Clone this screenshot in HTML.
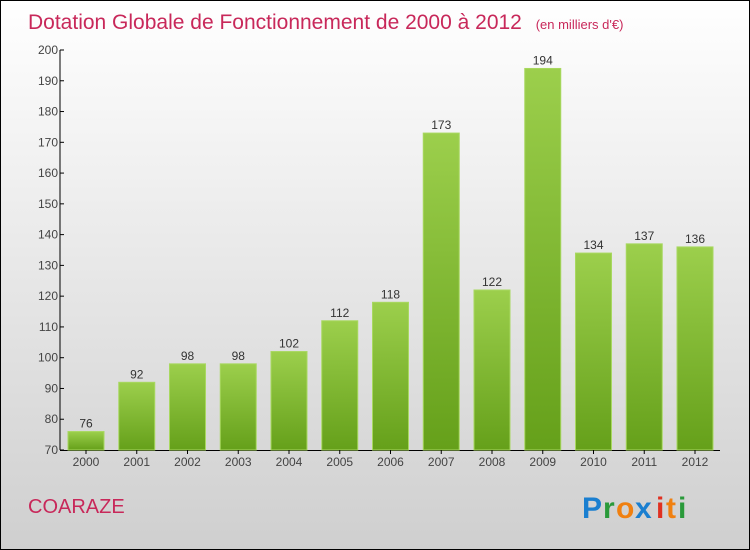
<!DOCTYPE html>
<html><head><meta charset="utf-8"><style>
body{margin:0}
svg{display:block;font-family:"Liberation Sans",sans-serif}
</style></head><body>
<svg id="c" width="750" height="550" viewBox="0 0 750 550">
<defs>
<linearGradient id="bg" x1="0" y1="0" x2="0" y2="1"><stop offset="0" stop-color="#ffffff"/><stop offset="1" stop-color="#cfcfcf"/></linearGradient>
<linearGradient id="bar" x1="0" y1="0" x2="0" y2="1"><stop offset="0" stop-color="#9ccf4c"/><stop offset="1" stop-color="#65a01a"/></linearGradient>
</defs>
<rect x="0.5" y="0.5" width="749" height="549" fill="url(#bg)" stroke="#000"/>
<text x="28" y="29" font-size="21" fill="#c8285a">Dotation Globale de Fonctionnement de 2000 à 2012 <tspan font-size="13" dx="8">(en milliers d'€)</tspan></text>
<g id="yax"></g><g id="bars"></g>
<text x="28" y="513" font-size="20" fill="#c8285a">COARAZE</text>
<g font-size="30" font-weight="bold">
<text x="582" y="518" fill="#1a7fd0">P</text><text x="603" y="518" fill="#2a9a3a">r</text><text x="616" y="518" fill="#f08010">o</text><text x="635" y="518" fill="#1a7fd0">x</text><text x="656" y="518" fill="#e03020">i</text><text x="666" y="518" fill="#f08010">t</text><text x="678" y="518" fill="#2a9a3a">i</text>
</g>
</svg>
<script>
const categories=["2000","2001","2002","2003","2004","2005","2006","2007","2008","2009","2010","2011","2012"];
const values=[76,92,98,98,102,112,118,173,122,194,134,137,136];
const yTicks=[70,80,90,100,110,120,130,140,150,160,170,180,190,200];
const NS="http://www.w3.org/2000/svg";
const y0=450,y1=50,vmin=70,vmax=200,x0=60,x1=720;
const Y=v=>y0-(v-vmin)/(vmax-vmin)*(y0-y1);
const X=i=>86+i*50.75;
function mk(t,a,p){const e=document.createElementNS(NS,t);for(const k in a)e.setAttribute(k,a[k]);p.appendChild(e);return e;}
const ya=document.getElementById('yax'),bg=document.getElementById('bars');
const ax=mk('line',{x1:x0,y1:y1,x2:x0,y2:y0,stroke:'#000'},ya);


const bx=mk('line',{x1:x0,y1:y0+0.5,x2:x1,y2:y0+0.5,stroke:'#000'},ya);


yTicks.forEach(v=>{
 const y=Y(v);
 mk('line',{x1:x0,y1:y,x2:x0+4,y2:y,stroke:'#000'},ya);
 const t=mk('text',{x:x0-2,y:y+4,'text-anchor':'end','font-size':12,fill:'#444'},ya);
 t.textContent=v;
 
 
});
categories.forEach((c,i)=>{
 const cx=X(i),top=Y(values[i]);
 const r=mk('rect',{x:cx-18,y:top,width:36,height:y0-top,fill:'url(#bar)',stroke:'#a8d860','stroke-width':1},bg);
 
 
 const l=mk('text',{x:cx,y:top-4,'text-anchor':'middle','font-size':12,fill:'#333'},bg);
 l.textContent=values[i];
 
 
 mk('line',{x1:cx,y1:y0,x2:cx,y2:y0+4,stroke:'#000'},bg);
 const xl=mk('text',{x:cx,y:466,'text-anchor':'middle','font-size':12,fill:'#444'},bg);
 xl.textContent=c;
 
 
});
</script>
</body></html>
